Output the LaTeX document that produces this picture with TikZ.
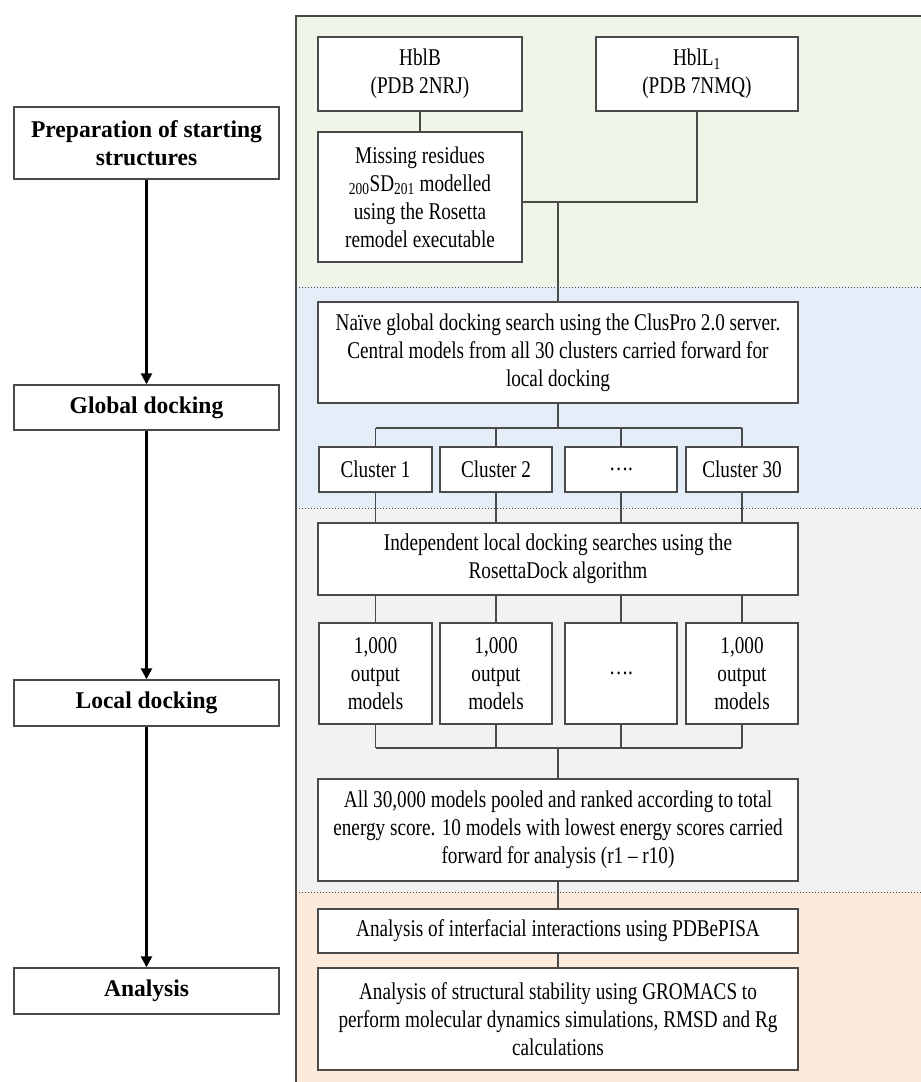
\documentclass[tikz,border=0pt]{standalone}
\usepackage{fontspec}
\setmainfont{Liberation Serif}[FakeStretch=0.8]
\newfontfamily\stagefont{Liberation Serif}[FakeStretch=0.98]
\usetikzlibrary{arrows.meta}
\definecolor{prepgreen}{HTML}{F0F5EA}
\definecolor{globblue}{HTML}{E5EDF8}
\definecolor{locgray}{HTML}{F2F2F2}
\definecolor{analorange}{HTML}{FCEADC}
\definecolor{boxline}{HTML}{4A4A4A}
\begin{document}
\begin{tikzpicture}[x=1pt, y=-1pt,
    font=\fontsize{24}{28}\selectfont,
    stepbox/.style={draw=boxline, line width=1.4pt, fill=white, align=center, inner sep=0pt},
    stagebox/.style={stepbox, minimum width=265, font=\fontsize{24}{28}\stagefont\bfseries},
    link/.style={draw=boxline, line width=1.4pt},
    stagearrow/.style={line width=2.4pt, -{Triangle[length=11pt, width=11pt]}}]
    \useasboundingbox (0, 0) rectangle (921, 1082);

    % Draw the coloured bands of the right panel
    \fill[prepgreen] (296, 16) rectangle (925, 287);
    \fill[globblue] (296, 287) rectangle (925, 508);
    \fill[locgray] (296, 508) rectangle (925, 892);
    \fill[analorange] (296, 892) rectangle (925, 1090);
    \draw[boxline, line width=1.4pt] (296, 1090) -- (296, 16) -- (925, 16);
    \draw[boxline, line width=1pt, dotted] (296, 287) -- (925, 287);
    \draw[boxline, line width=1pt, dotted] (296, 508) -- (925, 508);
    \draw[boxline, line width=1pt, dotted] (296, 892) -- (925, 892);

    % Draw the stages on the left
    \node[stagebox, minimum height=72] (prep) at (146.5, 143) {Preparation of starting\\structures};
    \node[stagebox, minimum height=45] (glob) at (146.5, 407.5) {Global docking};
    \node[stagebox, minimum height=46] (locd) at (146.5, 703) {Local docking};
    \node[stagebox, minimum height=46] (anal) at (146.5, 991) {Analysis};

    % Draw the arrows between the stages
    \draw[stagearrow] (prep) -- (glob);
    \draw[stagearrow] (glob) -- (locd);
    \draw[stagearrow] (locd) -- (anal);

    % Draw the starting structures
    \node[stepbox, minimum width=204, minimum height=74] (hblb) at (420, 74) {HblB\\(PDB 2NRJ)};
    \node[stepbox, minimum width=202, minimum height=74] (hbll) at (697, 74) {HblL\textsubscript{1}\\(PDB 7NMQ)};
    \node[stepbox, minimum width=204, minimum height=130] (miss) at (420, 197) {Missing residues\\\textsubscript{200}SD\textsubscript{201} modelled\\using the Rosetta\\remodel executable};

    % Draw the global docking steps
    \node[stepbox, minimum width=480, minimum height=101] (naive) at (558, 352.5) {Naïve global docking search using the ClusPro 2.0 server.\\Central models from all 30 clusters carried forward for\\local docking};
    \node[stepbox, minimum width=113, minimum height=45] (c1) at (375.5, 469.5) {Cluster 1};
    \node[stepbox, minimum width=112, minimum height=45] (c2) at (496, 469.5) {Cluster 2};
    \node[stepbox, minimum width=112, minimum height=45] (c3) at (621, 469.5) {….};
    \node[stepbox, minimum width=112, minimum height=45] (c4) at (742, 469.5) {Cluster 30};

    % Draw the local docking steps
    \node[stepbox, minimum width=480, minimum height=72] (indep) at (558, 559) {Independent local docking searches using the\\RosettaDock algorithm};
    \node[stepbox, minimum width=113, minimum height=101] (o1) at (375.5, 673.5) {1,000\\output\\models};
    \node[stepbox, minimum width=112, minimum height=101] (o2) at (496, 673.5) {1,000\\output\\models};
    \node[stepbox, minimum width=112, minimum height=101] (o3) at (621, 673.5) {….};
    \node[stepbox, minimum width=112, minimum height=101] (o4) at (742, 673.5) {1,000\\output\\models};
    \node[stepbox, minimum width=480, minimum height=102] (pool) at (558, 830) {All 30,000 models pooled and ranked according to total\\energy score. 10 models with lowest energy scores carried\\forward for analysis (r1 – r10)};

    % Draw the analysis steps
    \node[stepbox, minimum width=480, minimum height=44] (pisa) at (558, 931) {Analysis of interfacial interactions using PDBePISA};
    \node[stepbox, minimum width=480, minimum height=102] (grom) at (558, 1019) {Analysis of structural stability using GROMACS to\\perform molecular dynamics simulations, RMSD and Rg\\calculations};

    % Draw the connectors between the steps
    \coordinate (join) at (558, 202);
    \coordinate (busa) at (558, 428);
    \coordinate (busb) at (558, 748);
    \draw[link] (hblb) -- (miss);
    \draw[link] (miss.east |- join) -| (hbll.south);
    \draw[link] (join) -- (naive.north);
    \draw[link] (naive.south) -- (busa);
    \draw[link] (c1.north |- busa) -- (c4.north |- busa);
    \draw[link] (c1.north |- busb) -- (c4.north |- busb);
    \foreach \k in {1,...,4} {
        \draw[link] (c\k.north |- busa) -- (c\k.north);
        \draw[link] (c\k.south) -- (c\k.south |- indep.north);
        \draw[link] (o\k.north |- indep.south) -- (o\k.north);
        \draw[link] (o\k.south) -- (o\k.south |- busb);
    }
    \draw[link] (busb) -- (pool.north);
    \draw[link] (pool) -- (pisa);
    \draw[link] (pisa) -- (grom);
\end{tikzpicture}
\end{document}
